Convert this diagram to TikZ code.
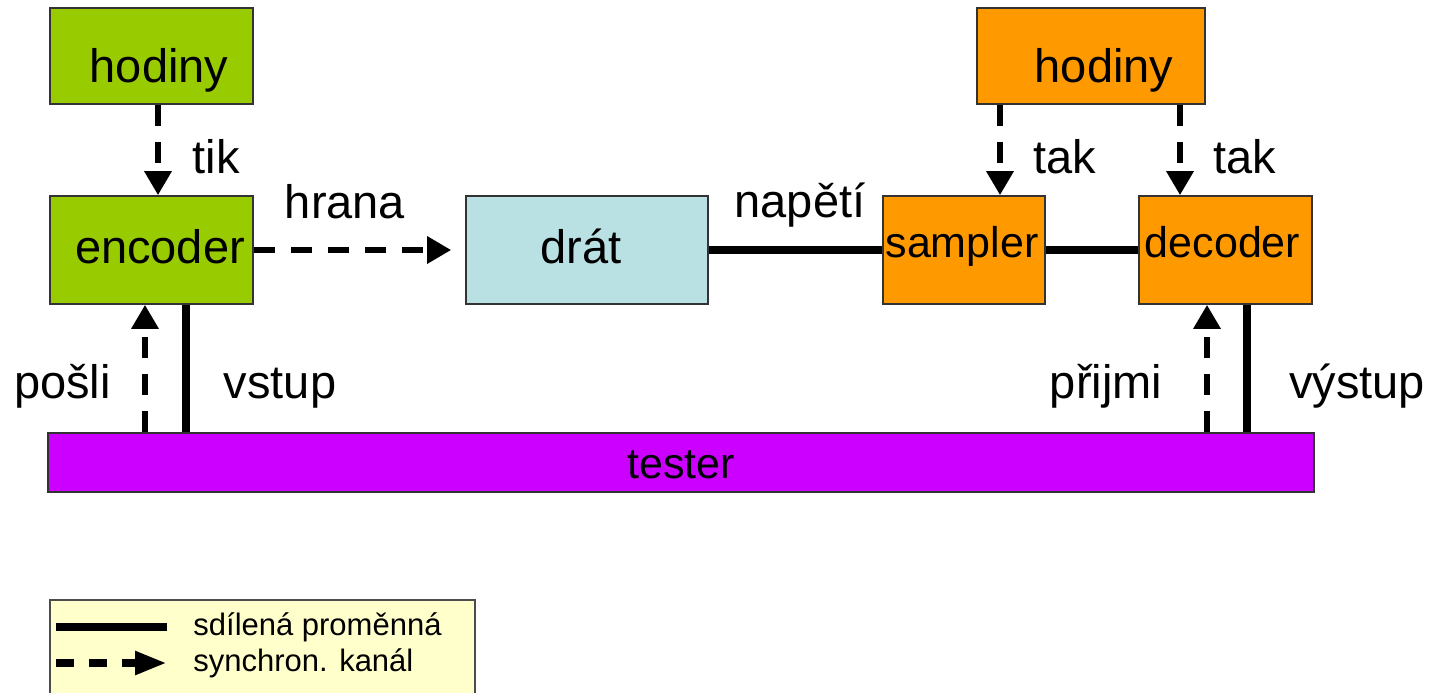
\documentclass[tikz,border=0pt]{standalone}
\usepackage{fontspec}
\setmainfont{Liberation Sans}
\usetikzlibrary{arrows.meta}

\definecolor{clkgreen}{HTML}{99CC00}
\definecolor{wireblue}{HTML}{B9E0E3}
\definecolor{rxorange}{HTML}{FF9900}
\definecolor{testpurple}{HTML}{CC00FF}
\definecolor{legendyellow}{HTML}{FFFFCC}

\newcommand{\bigtxt}{\fontsize{23.5}{28}\selectfont}
\newcommand{\midtxt}{\fontsize{21.5}{26}\selectfont}
% text set a bit off the box centre (baseline #2 below it)
\newcommand{\boxtext}[3]{\hspace*{#1}\raisebox{-#2}[0pt][0pt]{#3}}

\tikzset{
  block/.style={draw=black!80, line width=0.8pt, inner sep=0pt, font=\bigtxt},
  lbl/.style={anchor=base, inner sep=0pt, font=\bigtxt},
  legtxt/.style={anchor=west, inner sep=0pt, font=\fontsize{15.5}{18}\selectfont},
  sync/.style={line width=3pt, dash pattern=on 10.5pt off 8pt,
    -{Triangle[width=13pt,length=12pt]}},
  shared/.style={line width=4pt},
}

\begin{document}
\begin{tikzpicture}[x=0.5pt,y=-0.5pt]
    \useasboundingbox (0,0) rectangle (1435,692);

    % sender side
    \node[block, fill=clkgreen, minimum width=101.5pt, minimum height=48pt] (hodA) at (151.5,56) {\boxtext{7.5pt}{13pt}{hodiny}};
    \node[block, fill=clkgreen, minimum width=101.5pt, minimum height=54pt] (enc) at (151.5,250) {\boxtext{8.5pt}{6.5pt}{encoder}};

    % wire
    \node[block, fill=wireblue, minimum width=121pt, minimum height=54pt] (drat) at (587,250) {\boxtext{-6pt}{6.5pt}{drát}};

    % receiver side
    \node[block, fill=rxorange, minimum width=114pt, minimum height=48pt] (hodB) at (1091,56) {\boxtext{13pt}{13pt}{hodiny}};
    \node[block, fill=rxorange, font=\midtxt, minimum width=81pt, minimum height=54pt] (sampler) at (964,250) {\boxtext{-2pt}{3.5pt}{sampler}};
    \node[block, fill=rxorange, font=\midtxt, minimum width=86.5pt, minimum height=54pt] (dec) at (1225.5,250) {\boxtext{-3pt}{3.5pt}{decoder}};

    % tester
    \node[block, fill=testpurple, font=\midtxt, minimum width=633pt, minimum height=29.5pt] (tester) at (681,462.5) {\boxtext{0pt}{7.75pt}{tester}};

    % columns of the vertical links
    \coordinate (tikx) at (158,0);
    \coordinate (takx) at (1000,0);
    \coordinate (takxx) at (1180,0);
    \coordinate (poslix) at (145,0);
    \coordinate (vstupx) at (186,0);
    \coordinate (prijmix) at (1207,0);
    \coordinate (vystupx) at (1247,0);

    % links
    \draw[sync] (hodA.south -| tikx) -- (enc.north -| tikx);
    \draw[sync, shorten >=7pt] (enc.east) -- (drat.west);
    \draw[shared] (drat.east) -- (sampler.west);
    \draw[shared] (sampler.east) -- (dec.west);
    \draw[sync] (hodB.south -| takx) -- (sampler.north -| takx);
    \draw[sync] (hodB.south -| takxx) -- (dec.north -| takxx);
    \draw[sync] (tester.north -| poslix) -- (enc.south -| poslix);
    \draw[shared] (tester.north -| vstupx) -- (enc.south -| vstupx);
    \draw[sync] (tester.north -| prijmix) -- (dec.south -| prijmix);
    \draw[shared] (tester.north -| vystupx) -- (dec.south -| vystupx);

    % labels
    \node[lbl] (tik) at (216,173) {tik};
    \node[lbl] (hrana) at (345,218) {hrana};
    \node[lbl] (napeti) at (800,217) {napětí};
    \node[lbl] (takA) at (1065,173) {tak};
    \node[lbl] (takB) at (1245,173) {tak};
    \node[lbl] (posli) at (62.5,398) {pošli};
    \node[lbl] (vstup) at (280,398) {vstup};
    \node[lbl] (prijmi) at (1106,398) {přijmi};
    \node[lbl] (vystup) at (1357,398) {výstup};

    % legend
    \node[draw=black!70, line width=0.8pt, fill=legendyellow, inner sep=0pt,
      minimum width=212.5pt, minimum height=50pt] (legend) at (262.5,650) {};
    \coordinate (shA) at (56,627);
    \coordinate (shB) at (167,627);
    \coordinate (syA) at (56,663);
    \coordinate (syB) at (167,663);
    \draw[shared] (shA) -- (shB);
    \draw[line width=4pt, dash pattern=on 9pt off 7.5pt,
      -{Triangle[width=11pt,length=16pt]}] (syA) -- (syB);
    \node[legtxt] (legA) at (193,627) {sdílená proměnná};
    \node[legtxt] (legB) at (193,663) {synchron. kanál};
\end{tikzpicture}
\end{document}
